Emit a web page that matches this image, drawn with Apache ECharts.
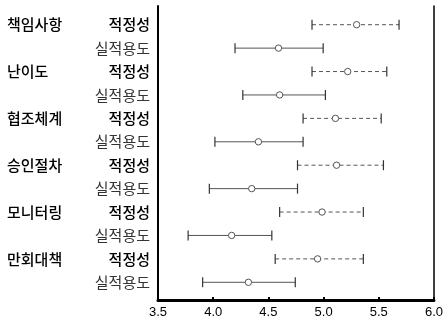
<!DOCTYPE html>
<html><head><meta charset="utf-8">
<script src="https://cdn.jsdelivr.net/npm/echarts@6/dist/echarts.min.js"></script>
<style>html,body{margin:0;padding:0;background:#fff}#c{width:446px;height:329px}</style>
</head><body><div id="c"></div>
<script>
const groups = ['책임사항','난이도','협조체계','승인절차','모니터링','만회대책'];
const subLabels = ['적정성','실적용도'];
const lower = [4.88,4.19, 4.88,4.26, 4.80,4.01, 4.75,3.96, 4.59,3.77, 4.55,3.90];
const mean  = [5.28,4.58, 5.20,4.59, 5.09,4.40, 5.10,4.34, 4.97,4.16, 4.93,4.31];
const upper = [5.66,4.98, 5.55,5.00, 5.50,4.80, 5.52,4.75, 5.34,4.52, 5.34,4.73];
const xTicks = [3.5,4.0,4.5,5.0,5.5,6.0];

const cats = [];
groups.forEach(g => subLabels.forEach((s,j) => cats.push((j===0?g:'') + '|' + s + '|' + j)));
const rows = cats.map((c,i) => [i, lower[i], mean[i], upper[i]]);

const chart = echarts.init(document.getElementById('c'), null, {renderer:'canvas'});
chart.setOption({
  animation:false,
  backgroundColor:'#fff',
  grid:[
    {left:158, right:9, top:6, bottom:29},
    {left:158, right:9, top:13, bottom:35}
  ],
  xAxis:[
    {gridIndex:0, type:'value', min:xTicks[0], max:xTicks[xTicks.length-1], interval:0.5, position:'bottom',
     axisLine:{show:true, lineStyle:{color:'#000', width:3}},
     axisTick:{show:true, inside:true, length:3, lineStyle:{color:'#000', width:2}},
     axisLabel:{color:'#000', fontFamily:'Liberation Sans', fontSize:13, margin:6,
       formatter:v=>v.toFixed(1)},
     splitLine:{show:false}},
    {gridIndex:0, type:'value', min:xTicks[0], max:xTicks[xTicks.length-1], position:'top',
     axisLine:{show:true, lineStyle:{color:'#000', width:2}},
     axisTick:{show:false}, axisLabel:{show:false}, splitLine:{show:false}},
    {gridIndex:1, type:'value', min:xTicks[0], max:xTicks[xTicks.length-1], show:false}
  ],
  yAxis:[
    {gridIndex:0, type:'value', min:0, max:1, position:'left',
     axisLine:{show:true, lineStyle:{color:'#000', width:2}},
     axisTick:{show:false}, axisLabel:{show:false}, splitLine:{show:false}},
    {gridIndex:0, type:'value', min:0, max:1, position:'right',
     axisLine:{show:true, lineStyle:{color:'#000', width:1.5}},
     axisTick:{show:false}, axisLabel:{show:false}, splitLine:{show:false}},
    {gridIndex:1, type:'category', data:cats, inverse:true,
     axisLine:{show:false}, axisTick:{show:false}, splitLine:{show:false},
     axisLabel:{margin:8, interval:0,
       formatter:v=>{const p=v.split('|'); return '{g|'+p[0]+'}{'+(p[2]==='0'?'a':'b')+'|'+p[1]+'}';},
       rich:{
         g:{width:78, align:'left', fontFamily:'Noto Sans CJK KR', fontSize:15, fontWeight:500, color:'#000'},
         a:{width:65, align:'right', fontFamily:'Noto Sans CJK KR', fontSize:15, fontWeight:500, color:'#000'},
         b:{width:65, align:'right', fontFamily:'Noto Sans CJK KR', fontSize:15, fontWeight:'normal', color:'#333'}
       }}}
  ],
  series:[{
    type:'custom', xAxisIndex:2, yAxisIndex:2,
    data:rows,
    encode:{x:[1,2,3], y:0},
    renderItem:(params, api)=>{
      const i = api.value(0);
      const pL = api.coord([api.value(1), i]);
      const pM = api.coord([api.value(2), i]);
      const pU = api.coord([api.value(3), i]);
      const h = 5;
      const dashed = (i % 2 === 0);
      const st = {stroke:'#555', lineWidth:1, lineDash: dashed ? [4,3] : null};
      return {type:'group', children:[
        {type:'line', shape:{x1:pL[0], y1:pL[1], x2:pU[0], y2:pU[1]}, style:st},
        {type:'line', shape:{x1:pL[0], y1:pL[1]-h, x2:pL[0], y2:pL[1]+h}, style:{stroke:'#333', lineWidth:1.2}},
        {type:'line', shape:{x1:pU[0], y1:pU[1]-h, x2:pU[0], y2:pU[1]+h}, style:{stroke:'#333', lineWidth:1.2}},
        {type:'circle', shape:{cx:pM[0], cy:pM[1], r:3.2}, style:{fill:'#fff', stroke:'#555', lineWidth:1}}
      ]};
    }
  }]
});
</script></body></html>
